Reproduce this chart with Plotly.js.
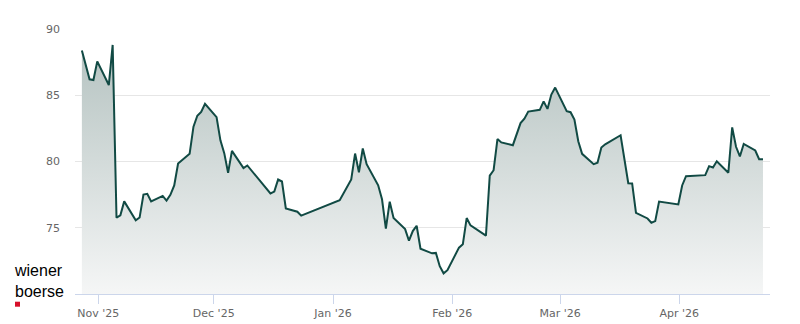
<!DOCTYPE html>
<html>
<head>
<meta charset="utf-8">
<script src="https://cdn.plot.ly/plotly-3.0.1.min.js"></script>
<style>
  html, body { margin: 0; padding: 0; background: #ffffff; }
  #chart { width: 800px; height: 324px; }
</style>
</head>
<body>
<div id="chart"></div>
<script>
// ---- data ----
const tradeDates = [
  '2025-10-27','2025-10-29','2025-10-30','2025-10-31',
  '2025-11-03','2025-11-04','2025-11-05','2025-11-06','2025-11-07',
  '2025-11-10','2025-11-11','2025-11-12','2025-11-13','2025-11-14',
  '2025-11-17','2025-11-18','2025-11-19','2025-11-20','2025-11-21',
  '2025-11-24','2025-11-25','2025-11-26','2025-11-27','2025-11-28',
  '2025-12-01','2025-12-02','2025-12-03','2025-12-04','2025-12-05',
  '2025-12-08','2025-12-09',
  '2025-12-15','2025-12-16','2025-12-17','2025-12-18','2025-12-19',
  '2025-12-22','2025-12-23',
  '2026-01-02',
  '2026-01-05','2026-01-06','2026-01-07','2026-01-08','2026-01-09',
  '2026-01-12','2026-01-13','2026-01-14','2026-01-15','2026-01-16',
  '2026-01-19','2026-01-20','2026-01-21','2026-01-22','2026-01-23',
  '2026-01-26','2026-01-27','2026-01-28','2026-01-29','2026-01-30',
  '2026-02-02','2026-02-03','2026-02-04','2026-02-05',
  '2026-02-09','2026-02-10','2026-02-11','2026-02-12','2026-02-13',
  '2026-02-16','2026-02-18','2026-02-19','2026-02-20',
  '2026-02-23','2026-02-24','2026-02-25','2026-02-26','2026-02-27',
  '2026-03-02','2026-03-03','2026-03-04','2026-03-05','2026-03-06',
  '2026-03-09','2026-03-10','2026-03-11','2026-03-12',
  '2026-03-16','2026-03-18','2026-03-19','2026-03-20',
  '2026-03-23','2026-03-24','2026-03-25','2026-03-26',
  '2026-03-31','2026-04-01','2026-04-02',
  '2026-04-07','2026-04-08','2026-04-09','2026-04-10',
  '2026-04-13','2026-04-14','2026-04-15','2026-04-16','2026-04-17',
  '2026-04-20','2026-04-21','2026-04-22'
];

const closePrices = [
  88.37, 86.20, 86.15, 87.56,
  85.77, 88.80, 75.76, 75.94, 76.99,
  75.56, 75.77, 77.50, 77.56, 76.99,
  77.40, 77.05, 77.48, 78.20, 79.85,
  80.58, 82.63, 83.45, 83.74, 84.36,
  83.35, 81.60, 80.63, 79.15, 80.80,
  79.50, 79.70,
  77.59, 77.73, 78.64, 78.49, 76.46,
  76.21, 75.91,
  77.08,
  78.64, 80.60, 79.19, 80.98, 79.80,
  78.20, 77.15, 74.93, 76.97, 75.73,
  74.90, 74.02, 74.75, 75.15, 73.42,
  73.07, 73.10, 72.10, 71.56, 71.80,
  73.50, 73.75, 75.73, 75.18,
  74.40, 78.94, 79.34, 81.69, 81.44,
  81.23, 82.90, 83.23, 83.77,
  83.90, 84.54, 83.97, 85.05, 85.58,
  83.80, 83.72, 83.17, 81.53, 80.58,
  79.80, 79.90, 81.06, 81.30,
  81.98, 78.36, 78.34, 76.13,
  75.70, 75.38, 75.50, 76.98,
  76.76, 78.19, 78.89,
  78.97, 79.65, 79.55, 80.02,
  79.15, 82.58, 81.11, 80.38, 81.33,
  80.83, 80.17, 80.17
];

const monthTickDates = ['2025-11-01','2025-12-01','2026-01-01','2026-02-01','2026-03-01','2026-04-01'];
const monthTickLabels = ["Nov '25","Dec '25","Jan '26","Feb '26","Mar '26","Apr '26"];
const priceTicks = [75, 80, 85, 90];
const priceTickLabels = ['75', '80', '85', '90'];
const logoText = 'wiener<br>boerse';

// closing time of the exchange (points are stamped at the close)
const CLOSE_TIME = ' 17:35';

// ---- chart ----
const xs = tradeDates.map(d => d + CLOSE_TIME);

const trace = {
  type: 'scatter',
  mode: 'lines',
  x: xs,
  y: closePrices,
  line: { color: '#114a44', width: 2 },
  fill: 'tozeroy',
  fillgradient: {
    type: 'vertical',
    start: 70,
    stop: 89,
    colorscale: [[0, '#f5f6f6'], [1, '#b4c2c0']]
  },
  hoverinfo: 'skip'
};

const tickFont = { family: 'DejaVu Sans, sans-serif', size: 11, color: '#666666' };
const logoFont = { family: 'Liberation Sans, Arial, sans-serif', size: 16, color: '#000000' };

const layout = {
  width: 800,
  height: 324,
  margin: { l: 75, r: 30, t: 29, b: 30 },
  paper_bgcolor: '#ffffff',
  plot_bgcolor: '#ffffff',
  showlegend: false,
  hovermode: false,
  xaxis: {
    type: 'date',
    range: ['2025-10-25 22:41', '2026-04-24 13:26'],
    tickmode: 'array',
    tickvals: monthTickDates,
    ticktext: monthTickLabels,
    showgrid: false,
    zeroline: false,
    showline: true,
    linecolor: '#ccd6eb',
    linewidth: 1,
    ticks: 'outside',
    ticklen: 9,
    tickwidth: 1,
    tickcolor: '#ccd6eb',
    tickfont: tickFont,
    fixedrange: true
  },
  yaxis: {
    range: [70, 90],
    tickmode: 'array',
    tickvals: priceTicks,
    ticktext: priceTickLabels,
    showgrid: true,
    gridcolor: '#e6e6e6',
    gridwidth: 1,
    zeroline: false,
    showline: false,
    ticks: '',
    ticklabelstandoff: 14,
    tickfont: tickFont,
    fixedrange: true
  },
  annotations: [
    {
      xref: 'paper', yref: 'paper',
      x: (13 - 75) / 695, y: (294.3 - 281.5) / 265,
      xanchor: 'left', yanchor: 'middle', align: 'left',
      text: logoText, showarrow: false,
      borderpad: 0,
      font: logoFont
    }
  ],
  shapes: [
    {
      type: 'rect', xref: 'paper', yref: 'paper',
      x0: (15 - 75) / 695, x1: (20 - 75) / 695,
      y0: (294.3 - 307) / 265, y1: (294.3 - 302) / 265,
      fillcolor: '#d7102a', line: { width: 0 }
    }
  ]
};

Plotly.newPlot('chart', [trace], layout, { displayModeBar: false, staticPlot: true });
</script>
</body>
</html>
